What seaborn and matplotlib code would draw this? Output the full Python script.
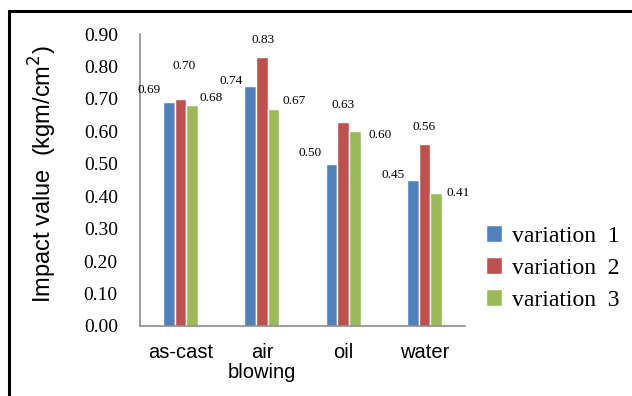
import matplotlib
matplotlib.use('Agg')
import matplotlib.pyplot as plt
from matplotlib.lines import Line2D
from matplotlib.ticker import FormatStrFormatter
import numpy as np
import pandas as pd
import seaborn as sns

# data
treatments = ['as-cast', 'air\nblowing', 'oil', 'water']
variation_1 = [0.69, 0.74, 0.50, 0.45]
variation_2 = [0.70, 0.83, 0.63, 0.56]
variation_3 = [0.68, 0.67, 0.60, 0.41]
series_names = ['variation  1', 'variation  2', 'variation  3']
colors = ['#4F81BD', '#C0504D', '#9BBB59']

df = pd.DataFrame({
    'treatment': treatments * 3,
    'value': variation_1 + variation_2 + variation_3,
    'series': [s for s in series_names for _ in treatments],
})

sns.set_style('white')
plt.rcParams['text.color'] = 'black'
plt.rcParams['xtick.color'] = 'black'
plt.rcParams['ytick.color'] = 'black'
serif = 'Liberation Serif'
sans = 'Liberation Sans'

fig = plt.figure(figsize=(6.32, 3.96), dpi=100)
ax = fig.add_axes([0.2215, 0.1768, 0.5143, 0.7373])

sns.barplot(data=df, x='treatment', y='value', hue='series', order=treatments,
            hue_order=series_names, palette=colors, width=0.43,
            edgecolor='white', linewidth=1, saturation=1, ax=ax)

ax.set_ylim(0, 0.9)
ax.set_yticks(np.arange(0, 0.91, 0.1))
ax.yaxis.set_major_formatter(FormatStrFormatter('%.2f'))
ax.set_xlabel('')
ax.set_ylabel('')
ax.tick_params(axis='both', length=0)
ax.tick_params(axis='y', pad=16)
ax.tick_params(axis='x', pad=12)
for lab in ax.get_yticklabels():
    lab.set_fontfamily(serif)
    lab.set_fontsize(14)
for lab in ax.get_xticklabels():
    lab.set_fontfamily(sans)
    lab.set_fontsize(14.5)
    lab.set_linespacing(1.1)

sns.despine(ax=ax)
for side in ['left', 'bottom']:
    ax.spines[side].set_color('#8c8c8c')
    ax.spines[side].set_linewidth(1.2)

# value labels, placed the way the original chart has them
offsets = [[(-20, 12), (-19, 5), (-21, 11), (-20, 5)],
           [(4, 33), (1, 17), (0, 17), (0, 17)],
           [(19, 7), (21, 8), (25, -4), (22, 0)]]
for cont, offs in zip(ax.containers, offsets):
    for bar, (dx, dy) in zip(cont.patches, offs):
        h = bar.get_height()
        ax.annotate(f'{h:.2f}', xy=(bar.get_x() + bar.get_width() / 2, h),
                    xytext=(dx, dy), textcoords='offset pixels',
                    ha='center', va='center', fontsize=9.5, family=serif,
                    color='black', annotation_clip=False)

fig.text(43 / 632, 1 - 174 / 396, 'Impact value  (kgm/cm$^2$)', rotation=90,
         ha='center', va='center', fontsize=17, family=sans)

handles, labels = ax.get_legend_handles_labels()
ax.legend(handles, labels, loc='center left', bbox_to_anchor=(0.735, 0.323),
          bbox_transform=fig.transFigure, frameon=False,
          prop={'family': serif, 'size': 17}, handlelength=0.7,
          handleheight=0.7, handletextpad=0.4, labelspacing=0.45)

# outer frame of the original figure (only top and left visible)
fig.add_artist(Line2D([9 / 632, 9 / 632], [-0.1, 1 - 11 / 396],
                      transform=fig.transFigure, color='black', linewidth=2.2))
fig.add_artist(Line2D([9 / 632, 1.1], [1 - 11 / 396, 1 - 11 / 396],
                      transform=fig.transFigure, color='black', linewidth=2.2))

fig.savefig('out.png', dpi=100)
